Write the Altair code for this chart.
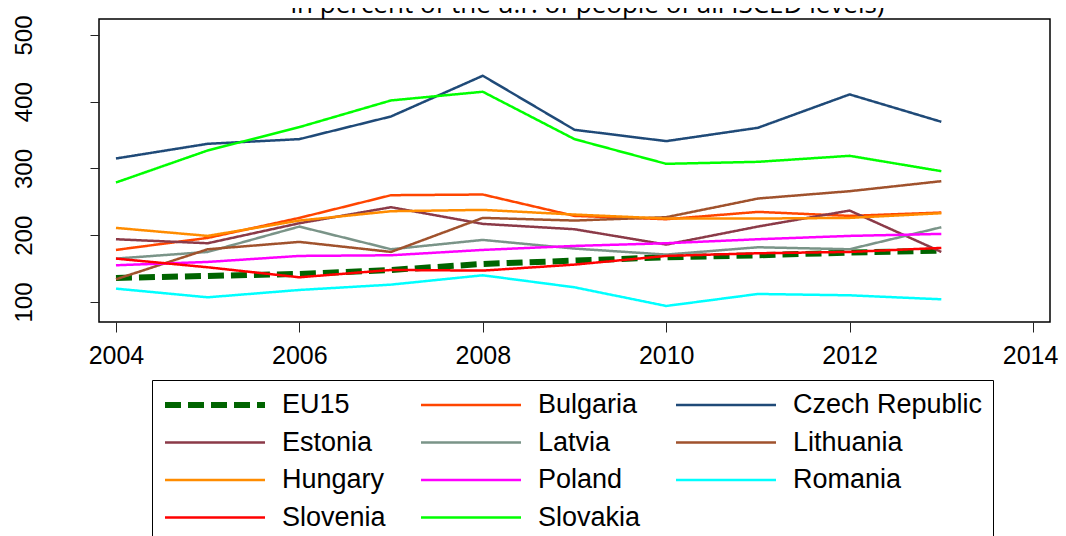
import altair as alt
import pandas as pd

years = list(range(2004, 2014))

series_names = ["EU15", "Bulgaria", "Czech Republic", "Estonia", "Latvia",
                "Lithuania", "Hungary", "Poland", "Romania", "Slovenia", "Slovakia"]

eu15 = [136, 139, 142, 148, 157, 162, 167, 170, 174, 177]
bulgaria = [178, 196, 226, 260, 261, 229, 224, 235, 229, 234]
czech = [315, 337, 344, 378, 439, 358, 341, 361, 411, 370]
estonia = [194, 188, 218, 242, 217, 209, 186, 213, 237, 175]
latvia = [165, 175, 213, 179, 193, 180, 171, 182, 179, 212]
lithuania = [134, 179, 190, 175, 226, 222, 227, 255, 266, 281]
hungary = [211, 199, 222, 236, 238, 231, 225, 225, 226, 233]
poland = [155, 160, 169, 170, 178, 184, 188, 194, 199, 202]
romania = [120, 107, 118, 126, 140, 122, 94, 112, 110, 104]
slovenia = [165, 152, 137, 148, 147, 156, 169, 173, 175, 181]
slovakia = [279, 327, 362, 402, 415, 344, 307, 310, 319, 296]

series_values = [eu15, bulgaria, czech, estonia, latvia, lithuania,
                 hungary, poland, romania, slovenia, slovakia]

x_ticks = [2004, 2006, 2008, 2010, 2012, 2014]
y_ticks = [100, 200, 300, 400, 500]

colors = ["#006400", "#FF4500", "#1F4A78", "#8B3A48", "#7A9488", "#A0522D",
          "#FF8C00", "#FF00FF", "#00FFFF", "#FF0000", "#00FF00"]
dashes = [[16, 7]] + [[1, 0]] * 10
widths = [6] + [2.5] * 10

rows = []
for name, vals in zip(series_names, series_values):
    for yr, v in zip(years, vals):
        rows.append({"year": yr, "value": v, "series": name})
df = pd.DataFrame(rows)

legend = alt.Legend(
    title=None, orient="none", legendX=53, legendY=361, direction="horizontal",
    columns=3, columnPadding=32, rowPadding=7.5, clipHeight=30,
    symbolType="stroke", symbolSize=10000, labelFontSize=27,
    labelFont="Liberation Sans", labelColor="black", labelOffset=14,
    labelLimit=400, padding=10, strokeColor="black",
)

chart = alt.Chart(df).mark_line(strokeJoin="round").encode(
    x=alt.X("year:Q",
            scale=alt.Scale(domain=[2003.815, 2014.185], nice=False, zero=False),
            axis=alt.Axis(values=x_ticks, format="d", title=None, grid=False,
                          domain=False, tickSize=10, tickColor="#222",
                          labelFontSize=25, labelFont="Liberation Sans",
                          labelColor="black", labelPadding=11, labelFlush=False,
                          labelOffset={"condition": {"test": "datum.value === 2014",
                                                     "value": -3},
                                       "value": 0})),
    y=alt.Y("value:Q",
            scale=alt.Scale(domain=[70, 524], nice=False, zero=False),
            axis=alt.Axis(values=y_ticks, title=None, grid=False, domain=False,
                          tickSize=9, tickColor="#222", labelAngle=270,
                          labelAlign="center", labelBaseline="alphabetic",
                          labelFontSize=24, labelFont="Liberation Sans",
                          labelColor="black", labelPadding=59)),
    color=alt.Color("series:N", scale=alt.Scale(domain=series_names, range=colors),
                    legend=legend),
    strokeDash=alt.StrokeDash("series:N",
                              scale=alt.Scale(domain=series_names, range=dashes),
                              legend=legend),
    strokeWidth=alt.StrokeWidth("series:N",
                                scale=alt.Scale(type="ordinal", domain=series_names,
                                                range=widths),
                                legend=legend),
).properties(
    width=951, height=303,
    title=alt.TitleParams("in percent of the u.r. of people of all ISCED levels)",
                          font="Open Sans", fontSize=26, fontWeight="normal",
                          color="black", anchor="middle", offset=-3, dx=13),
    padding={"left": 91, "top": 11, "right": 8, "bottom": 214},
    autosize=alt.AutoSizeParams(type="none"),
).configure_view(
    stroke="black", strokeWidth=1.5
)

chart.save("out.html", embed_options={"renderer": "svg", "actions": False})
